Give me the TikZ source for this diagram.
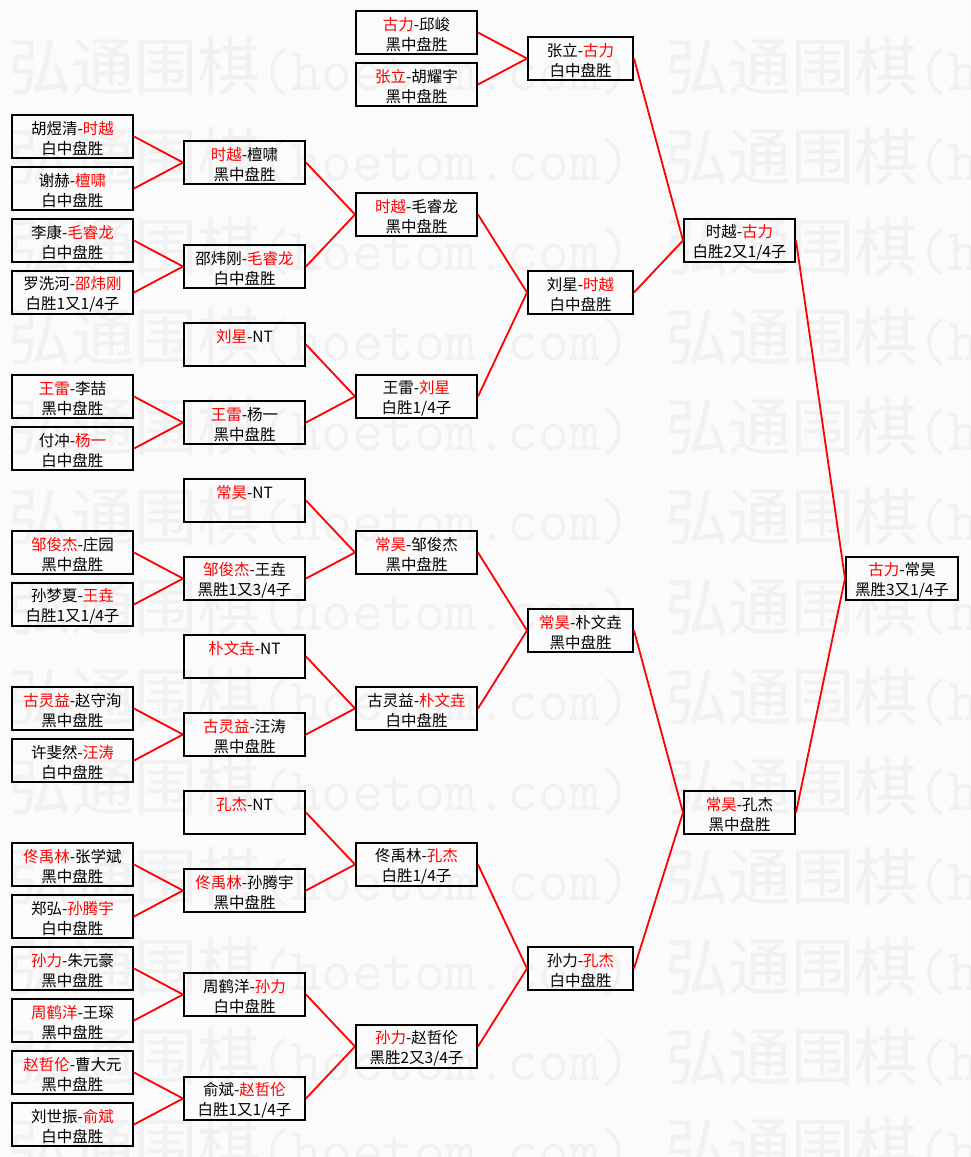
\documentclass[tikz,border=0pt]{standalone}
\usepackage{fontspec}
\setmainfont{Noto Sans CJK SC}
\definecolor{bgc}{HTML}{FBFBFB}
\definecolor{wmc}{HTML}{F1F1F1}
\definecolor{winc}{HTML}{FF0000}
\newcommand\rd[1]{\textcolor{winc}{#1}}
\newcommand\bx[2]{\rule{0pt}{17pt}#1\\\rule[-2pt]{0pt}{2pt}#2}
\begin{document}
\begin{tikzpicture}[x=1pt,y=-1pt,
  box/.style={draw=black, line width=2pt, inner sep=0pt, minimum height=43pt,
    align=center, font=\fontsize{15.5}{20}\selectfont},
  cA/.style={box, minimum width=121pt},
  cD/.style={box, minimum width=105pt},
  cE/.style={box, minimum width=111pt},
  cF/.style={box, minimum width=112pt},
  link/.style={draw=winc, line width=1.8pt},
  wmark/.style={text=wmc, inner sep=0pt, anchor=base west, font=\fontsize{63}{63}\selectfont}]
\useasboundingbox (0,0) rectangle (970,1157);
\fill[bgc] (0,0) rectangle (970,1157);
% watermark
\begin{scope}
\clip (0,0) rectangle (970,1157);
\foreach \n in {0,...,12}{
  \node[wmark] (wl\n) at (8,{90+90*\n}) {弘通围棋{\fontsize{60}{60}\selectfont\ttfamily (hoetom.com)}};
  \node[wmark] (wr\n) at (665,{90+90*\n}) {弘通围棋{\fontsize{60}{60}\selectfont\ttfamily (hoetom.com)}};
}
\end{scope}
% column 1
\node[cA] (A4)  at (72.5,136.5)  {\bx{胡煜清-\rd{时越}}{白中盘胜}};
\node[cA] (A6)  at (72.5,188.5)  {\bx{谢赫-\rd{檀啸}}{白中盘胜}};
\node[cA] (A8)  at (72.5,240.5)  {\bx{李康-\rd{毛睿龙}}{白中盘胜}};
\node[cA] (A10) at (72.5,292.5)  {\bx{罗洗河-\rd{邵炜刚}}{白胜1又1/4子}};
\node[cA] (A14) at (72.5,396.5)  {\bx{\rd{王雷}-李喆}{黑中盘胜}};
\node[cA] (A16) at (72.5,448.5)  {\bx{付冲-\rd{杨一}}{白中盘胜}};
\node[cA] (A20) at (72.5,552.5)  {\bx{\rd{邹俊杰}-庄园}{黑中盘胜}};
\node[cA] (A22) at (72.5,604.5)  {\bx{孙梦夏-\rd{王垚}}{白胜1又1/4子}};
\node[cA] (A26) at (72.5,708.5)  {\bx{\rd{古灵益}-赵守洵}{黑中盘胜}};
\node[cA] (A28) at (72.5,760.5)  {\bx{许斐然-\rd{汪涛}}{白中盘胜}};
\node[cA] (A32) at (72.5,864.5)  {\bx{\rd{佟禹林}-张学斌}{黑中盘胜}};
\node[cA] (A34) at (72.5,916.5)  {\bx{郑弘-\rd{孙腾宇}}{白中盘胜}};
\node[cA] (A36) at (72.5,968.5)  {\bx{\rd{孙力}-朱元豪}{黑中盘胜}};
\node[cA] (A38) at (72.5,1020.5) {\bx{\rd{周鹤洋}-王琛}{黑中盘胜}};
\node[cA] (A40) at (72.5,1072.5) {\bx{\rd{赵哲伦}-曹大元}{黑中盘胜}};
\node[cA] (A42) at (72.5,1124.5) {\bx{刘世振-\rd{俞斌}}{白中盘胜}};
% column 2
\node[cA] (B5)  at (244.5,162.5)  {\bx{\rd{时越}-檀啸}{黑中盘胜}};
\node[cA] (B9)  at (244.5,266.5)  {\bx{邵炜刚-\rd{毛睿龙}}{白中盘胜}};
\node[cA] (B12) at (244.5,344.5)  {\bx{\rd{刘星}-NT}{}};
\node[cA] (B15) at (244.5,422.5)  {\bx{\rd{王雷}-杨一}{黑中盘胜}};
\node[cA] (B18) at (244.5,500.5)  {\bx{\rd{常昊}-NT}{}};
\node[cA] (B21) at (244.5,578.5)  {\bx{\rd{邹俊杰}-王垚}{黑胜1又3/4子}};
\node[cA] (B24) at (244.5,656.5)  {\bx{\rd{朴文垚}-NT}{}};
\node[cA] (B27) at (244.5,734.5)  {\bx{\rd{古灵益}-汪涛}{黑中盘胜}};
\node[cA] (B30) at (244.5,812.5)  {\bx{\rd{孔杰}-NT}{}};
\node[cA] (B33) at (244.5,890.5)  {\bx{\rd{佟禹林}-孙腾宇}{黑中盘胜}};
\node[cA] (B37) at (244.5,994.5)  {\bx{周鹤洋-\rd{孙力}}{白中盘胜}};
\node[cA] (B41) at (244.5,1098.5) {\bx{俞斌-\rd{赵哲伦}}{白胜1又1/4子}};
% column 3
\node[cA] (C0)  at (416.5,32.5)   {\bx{\rd{古力}-邱峻}{黑中盘胜}};
\node[cA] (C2)  at (416.5,84.5)   {\bx{\rd{张立}-胡耀宇}{黑中盘胜}};
\node[cA] (C7)  at (416.5,214.5)  {\bx{\rd{时越}-毛睿龙}{黑中盘胜}};
\node[cA] (C14) at (416.5,396.5)  {\bx{王雷-\rd{刘星}}{白胜1/4子}};
\node[cA] (C20) at (416.5,552.5)  {\bx{\rd{常昊}-邹俊杰}{黑中盘胜}};
\node[cA] (C26) at (416.5,708.5)  {\bx{古灵益-\rd{朴文垚}}{白中盘胜}};
\node[cA] (C32) at (416.5,864.5)  {\bx{佟禹林-\rd{孔杰}}{白胜1/4子}};
\node[cA] (C39) at (416.5,1046.5) {\bx{\rd{孙力}-赵哲伦}{黑胜2又3/4子}};
% column 4
\node[cD] (D1)  at (580.5,58.5)   {\bx{张立-\rd{古力}}{白中盘胜}};
\node[cD] (D10) at (580.5,292.5)  {\bx{刘星-\rd{时越}}{白中盘胜}};
\node[cD] (D23) at (580.5,630.5)  {\bx{\rd{常昊}-朴文垚}{黑中盘胜}};
\node[cD] (D36) at (580.5,968.5)  {\bx{孙力-\rd{孔杰}}{白中盘胜}};
% column 5
\node[cE] (E8)  at (739.5,240.5)  {\bx{时越-\rd{古力}}{白胜2又1/4子}};
\node[cE] (E30) at (739.5,812.5)  {\bx{\rd{常昊}-孔杰}{黑中盘胜}};
% column 6
\node[cF] (F21) at (902,578.5)    {\bx{\rd{古力}-常昊}{黑胜3又1/4子}};
% links
\foreach \a/\b in {A4/B5,A6/B5,A8/B9,A10/B9,A14/B15,A16/B15,A20/B21,A22/B21,
  A26/B27,A28/B27,A32/B33,A34/B33,A36/B37,A38/B37,A40/B41,A42/B41,
  B5/C7,B9/C7,B12/C14,B15/C14,B18/C20,B21/C20,B24/C26,B27/C26,B30/C32,B33/C32,B37/C39,B41/C39,
  C0/D1,C2/D1,C7/D10,C14/D10,C20/D23,C26/D23,C32/D36,C39/D36,
  D1/E8,D10/E8,D23/E30,D36/E30,E8/F21,E30/F21}
  \draw[link] (\a.east) -- (\b.west);
\end{tikzpicture}
\end{document}
